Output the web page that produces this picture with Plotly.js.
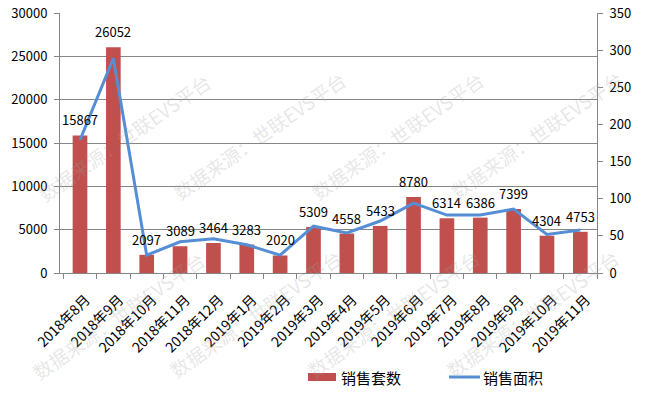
<!DOCTYPE html>
<html>
<head>
<meta charset="utf-8">
<script src="https://cdn.plot.ly/plotly-3.0.1.min.js"></script>
<style>html,body{margin:0;padding:0;background:#fff;}#chart{width:650px;height:393px;}</style>
</head>
<body>
<div id="chart"></div>
<script>
const categories = ['2018年8月','2018年9月','2018年10月','2018年11月','2018年12月','2019年1月','2019年2月','2019年3月','2019年4月','2019年5月','2019年6月','2019年7月','2019年8月','2019年9月','2019年10月','2019年11月'];
const salesCount = [15867,26052,2097,3089,3464,3283,2020,5309,4558,5433,8780,6314,6386,7399,4304,4753];
const salesArea = [179,289,24,42,46,38,24,63,54,70,94,78,78,86,52,58];
const leftTicks = [0,5000,10000,15000,20000,25000,30000];
const rightTicks = [0,50,100,150,200,250,300,350];
const seriesNames = ['销售套数','销售面积'];
const watermark = '数据来源：世联EVS平台';

const FONT = 'Noto Sans CJK SC, DejaVu Sans, sans-serif';
const AX = '#868686';
const BAR = '#C0504D', LINE = '#558ED5';

// plot area in pixels (for paper-coordinate helpers)
const PL = 60, PR = 597, PT = 13, PB = 273;
const px = x => (x - PL) / (PR - PL);
const py = y => (PB - y) / (PB - PT);

const traces = [
  {type:'bar', name:seriesNames[0], x:categories, y:salesCount, marker:{color:BAR}, yaxis:'y', hoverinfo:'skip', showlegend:false},
  {type:'scatter', mode:'lines', name:seriesNames[1], x:categories, y:salesArea, line:{color:LINE, width:3}, yaxis:'y2', hoverinfo:'skip', showlegend:false}
];

const annotations = salesCount.map((v,i)=>({x:categories[i], y:v, xref:'x', yref:'y', text:String(v), showarrow:false, yanchor:'bottom', yshift:4, font:{size:13, color:'#000', family:FONT}}));

const wmCenters = [[124,137],[259,135],[397,135],[536,134],[118,315],[255,313],[393,313],[532,313]];
wmCenters.forEach(c=>{
  annotations.push({xref:'paper', yref:'paper', x:px(c[0]), y:py(c[1]), text:watermark, showarrow:false, textangle:-35, xanchor:'center', yanchor:'middle', font:{size:19, color:'rgba(160,160,160,0.26)', family:FONT}});
});

// legend (drawn in the bottom margin)
annotations.push({xref:'paper', yref:'paper', x:px(339), y:py(377), text:seriesNames[0], showarrow:false, xanchor:'left', yanchor:'middle', font:{size:15, color:'#000', family:FONT}});
annotations.push({xref:'paper', yref:'paper', x:px(481), y:py(377), text:seriesNames[1], showarrow:false, xanchor:'left', yanchor:'middle', font:{size:15, color:'#000', family:FONT}});
const shapes = [
  {type:'rect', xref:'paper', yref:'paper', x0:px(308), x1:px(336), y0:py(381), y1:py(373), fillcolor:BAR, line:{width:0}},
  {type:'line', xref:'paper', yref:'paper', x0:px(449), x1:px(480), y0:py(377), y1:py(377), line:{color:LINE, width:3}}
];

const layout = {
  width:650, height:393,
  margin:{l:PL, r:650-PR, t:PT, b:393-PB},
  paper_bgcolor:'#fff', plot_bgcolor:'#fff',
  font:{family:FONT, size:13, color:'#000'},
  bargap:0.56,
  showlegend:false,
  xaxis:{type:'category', tickangle:-45, automargin:false, showline:true, linecolor:AX, ticks:'outside', ticklen:5, tickcolor:AX, tickson:'boundaries', showgrid:false, tickfont:{size:14}, ticklabelstandoff:12, ticklabelshift:6, fixedrange:true},
  yaxis:{range:[0,30000], automargin:false, tickvals:leftTicks, ticktext:leftTicks.map(String), showgrid:true, gridcolor:AX, gridwidth:1, showline:true, linecolor:AX, ticks:'outside', ticklen:5, tickcolor:AX, ticklabelstandoff:4, zeroline:false, tickfont:{size:13}},
  yaxis2:{range:[0,350], automargin:false, tickvals:rightTicks, ticktext:rightTicks.map(String), overlaying:'y', side:'right', showgrid:false, showline:true, linecolor:AX, ticks:'outside', ticklen:5, tickcolor:AX, ticklabelstandoff:4, zeroline:false, tickfont:{size:13}},
  annotations:annotations,
  shapes:shapes
};

Plotly.newPlot('chart', traces, layout, {displayModeBar:false, staticPlot:true});
</script>
</body>
</html>
